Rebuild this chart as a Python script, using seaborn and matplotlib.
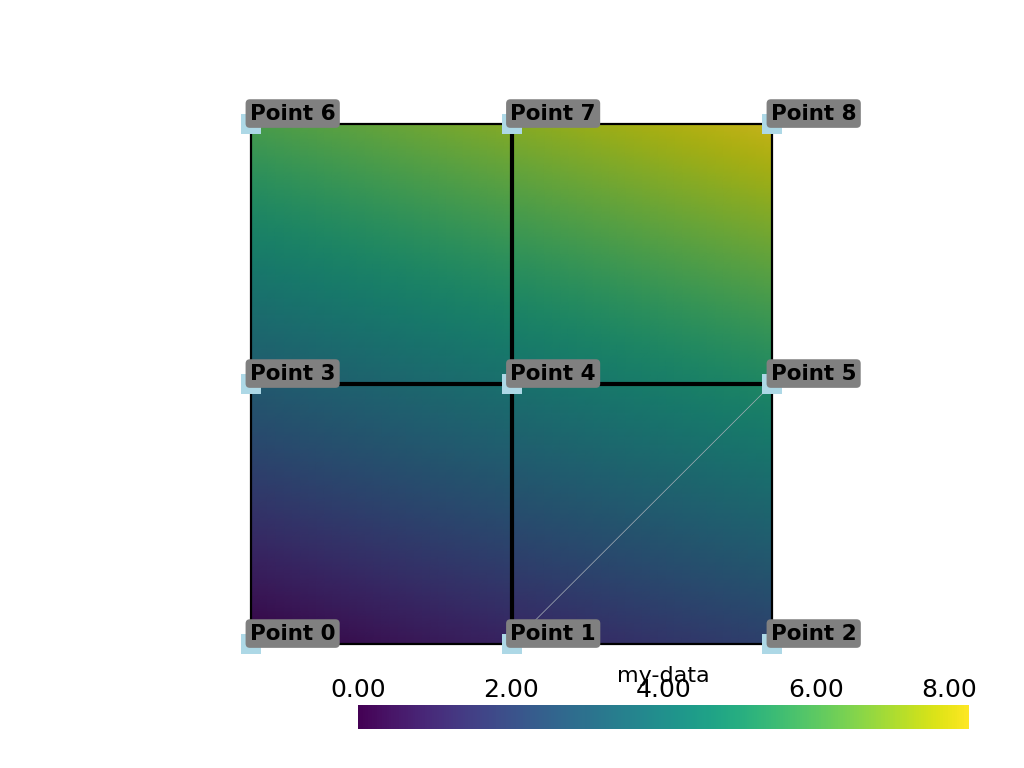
import numpy as np
import matplotlib
matplotlib.use("Agg")
import matplotlib.pyplot as plt
import matplotlib.tri as mtri
import matplotlib.transforms as mtrans
from matplotlib.colors import ListedColormap, Normalize
from matplotlib.cm import ScalarMappable
import seaborn as sns

# ---- data ----
point_x = [0, 1, 2, 0, 1, 2, 0, 1, 2]
point_y = [0, 0, 0, 1, 1, 1, 2, 2, 2]
my_data = [0, 1, 2, 3, 4, 5, 6, 7, 8]
point_labels = ["Point 0", "Point 1", "Point 2", "Point 3", "Point 4",
                "Point 5", "Point 6", "Point 7", "Point 8"]
# cells: three quads and two triangles
quad_cells = [[0, 1, 4, 3], [3, 4, 7, 6], [4, 5, 8, 7]]
tri_cells = [[1, 2, 5], [1, 5, 4]]
cbar_ticks = [0, 2, 4, 6, 8]
cbar_title = "my-data"

sns.set_theme(style="white")
plt.rcParams['font.family'] = ['DejaVu Sans']

cmap = sns.color_palette("viridis", as_cmap=True)
# shaded (lit) version of the colormap for the surface
lit = cmap(np.linspace(0, 1, 256))
lit[:, :3] *= 0.77
cmap_lit = ListedColormap(lit)
norm = Normalize(vmin=min(my_data), vmax=max(my_data))

fig = plt.figure(figsize=(10.24, 7.68), dpi=100)
fig.patch.set_facecolor("white")

ax = fig.add_axes([251 / 1024, (768 - 644) / 768, 521 / 1024, 520 / 768])
ax.set_xlim(0, 2)
ax.set_ylim(0, 2)
ax.axis("off")

# triangulate all cells
triangles = []
for q in quad_cells:
    triangles.append([q[0], q[1], q[2]])
    triangles.append([q[0], q[2], q[3]])
for t in tri_cells:
    triangles.append(t)
x = np.array(point_x, float)
y = np.array(point_y, float)
z = np.array(my_data, float)
triang = mtri.Triangulation(x, y, triangles)
refiner = mtri.UniformTriRefiner(triang)
interp = mtri.LinearTriInterpolator(triang, z)
tri_ref, z_ref = refiner.refine_field(z, triinterpolator=interp, subdiv=5)
ax.tripcolor(tri_ref, z_ref, shading="gouraud", cmap=cmap_lit, norm=norm,
             zorder=1)

# edges
edge_count = {}
for c in quad_cells + tri_cells:
    n = len(c)
    for i in range(n):
        e = tuple(sorted((c[i], c[(i + 1) % n])))
        edge_count[e] = edge_count.get(e, 0) + 1
tri_shared = (1, 5)
for e, cnt in edge_count.items():
    xs = [point_x[e[0]], point_x[e[1]]]
    ys = [point_y[e[0]], point_y[e[1]]]
    if e == tri_shared:
        ax.plot(xs, ys, color="#a8b0b8", lw=0.5, zorder=2, clip_on=False)
    elif cnt > 1:
        ax.plot(xs, ys, color="black", lw=3.0, zorder=2, clip_on=False,
                solid_capstyle="butt")
    else:
        ax.plot(xs, ys, color="black", lw=1.6, zorder=2, clip_on=False,
                solid_capstyle="projecting")

# points
ax.scatter(point_x, point_y, marker="s", s=15 ** 2, color="lightblue",
           linewidths=0, zorder=3, clip_on=False)
for px, py, lab in zip(point_x, point_y, point_labels):
    ax.annotate(lab, xy=(px, py), xytext=(-0.8, 3.2), textcoords="offset points",
                ha="left", va="baseline", fontsize=15.5, fontweight="bold",
                color="black", zorder=4,
                bbox=dict(boxstyle="round,pad=0.2,rounding_size=0.2",
                          fc="#808080", ec="none"))

# colorbar
cax = fig.add_axes([358 / 1024, (768 - 729) / 768, 611 / 1024, 24 / 768])
sm = ScalarMappable(norm=norm, cmap=cmap)
cb = fig.colorbar(sm, cax=cax, orientation="horizontal", ticks=cbar_ticks)
cb.outline.set_visible(False)
cax.xaxis.set_ticks_position("top")
cax.xaxis.set_label_position("top")
cax.tick_params(axis="x", length=0, pad=2, labelsize=18, labelcolor="black")
cb.set_ticklabels([f"{t:.2f}" for t in cbar_ticks])
last = cax.get_xticklabels()[-1]
last.set_transform(last.get_transform() +
                   mtrans.ScaledTranslation(-0.2, 0, fig.dpi_scale_trans))
cax.text(0.5, 1.95, cbar_title, transform=cax.transAxes, ha="center",
         va="baseline", fontsize=16, color="black")

fig.savefig("out.png", dpi=100, facecolor="white")
